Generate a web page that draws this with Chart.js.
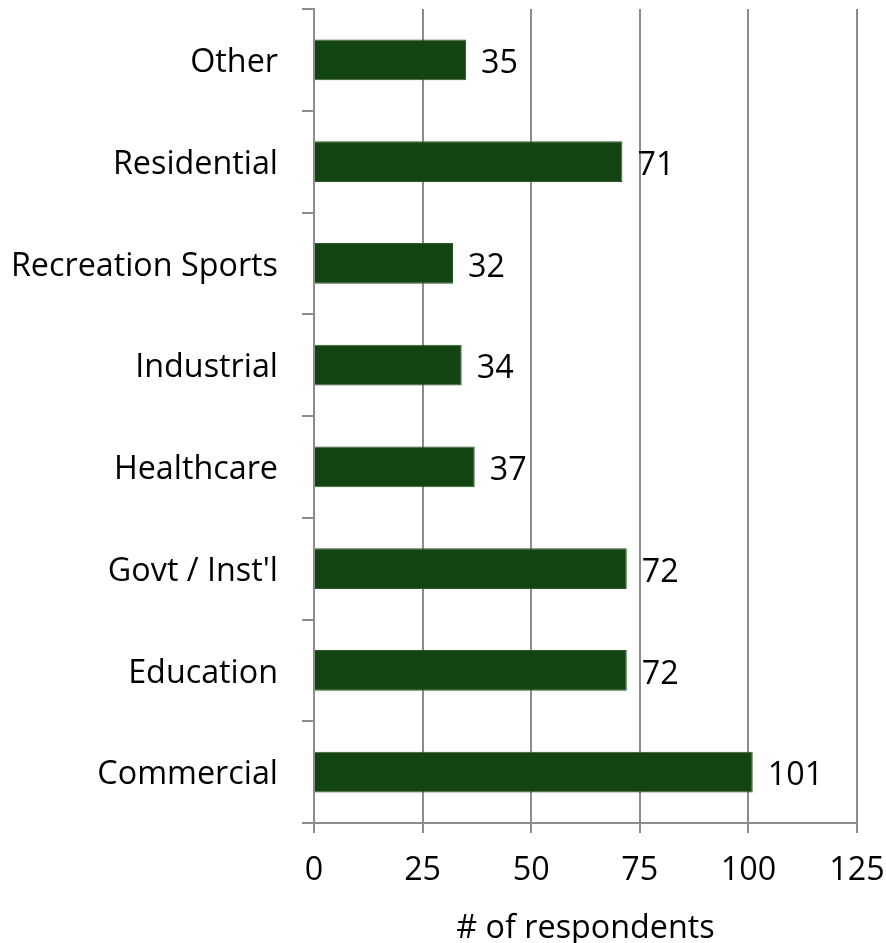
<!DOCTYPE html>
<html>
<head>
<meta charset="utf-8">
<script src="https://cdn.jsdelivr.net/npm/chart.js@4/dist/chart.umd.min.js"></script>
<style>
  html, body { margin: 0; padding: 0; background: #fff; }
  #wrap { width: 886px; height: 943px; }
</style>
</head>
<body>
<div id="wrap"><canvas id="c" width="886" height="943"></canvas></div>
<script>
const categories = ["Other", "Residential", "Recreation Sports", "Industrial", "Healthcare", "Govt / Inst'l", "Education", "Commercial"];
const respondents = [35, 71, 32, 34, 37, 72, 72, 101];
const xTicks = [0, 25, 50, 75, 100, 125];
const axisTitle = "# of respondents";

const FONT = "'Open Sans', Lato, sans-serif";
const FONT_SIZE = 32.3;

// Writes each bar's value just past the end of the bar
const valueLabels = {
  id: 'valueLabels',
  afterDatasetsDraw(chart) {
    const ctx = chart.ctx;
    const meta = chart.getDatasetMeta(0);
    ctx.save();
    ctx.font = FONT_SIZE + 'px ' + FONT;
    ctx.fillStyle = '#000';
    ctx.textAlign = 'left';
    ctx.textBaseline = 'middle';
    meta.data.forEach((bar, i) => {
      ctx.fillText(String(respondents[i]), bar.x + 15, bar.y + 4);
    });
    ctx.restore();
  }
};

new Chart(document.getElementById('c'), {
  type: 'bar',
  data: {
    labels: categories,
    datasets: [{
      data: respondents,
      backgroundColor: '#124512',
      borderColor: '#2e5a2a',
      borderWidth: 1,
      barPercentage: 0.4,
      categoryPercentage: 1.0
    }]
  },
  options: {
    indexAxis: 'y',
    responsive: false,
    animation: false,
    layout: { padding: { top: 9, right: 29, left: 0, bottom: 0 } },
    plugins: { legend: { display: false }, tooltip: { enabled: false } },
    scales: {
      x: {
        min: 0, max: 125,
        afterBuildTicks(scale) { scale.ticks = xTicks.map(v => ({ value: v })); },
        afterFit(scale) { scale.height = 120; scale.paddingLeft = 0; scale.paddingRight = 0; },
        grid: { color: '#8c8c8c', lineWidth: 2, tickLength: 10, drawTicks: true },
        border: { color: '#8c8c8c', width: 2 },
        ticks: { color: '#000', padding: 18, font: { family: FONT, size: FONT_SIZE } },
        title: { display: true, text: axisTitle, color: '#000', padding: { top: 0, bottom: -5 }, font: { family: FONT, size: FONT_SIZE } }
      },
      y: {
        afterFit(scale) { scale.width = 314; scale.paddingTop = 0; scale.paddingBottom = 0; },
        grid: { drawOnChartArea: false, color: '#8c8c8c', lineWidth: 2, tickLength: 12, offset: true },
        border: { color: '#8c8c8c', width: 2 },
        ticks: { color: '#000', padding: 24, labelOffset: 3, font: { family: FONT, size: FONT_SIZE } }
      }
    }
  },
  plugins: [valueLabels]
});
</script>
</body>
</html>
